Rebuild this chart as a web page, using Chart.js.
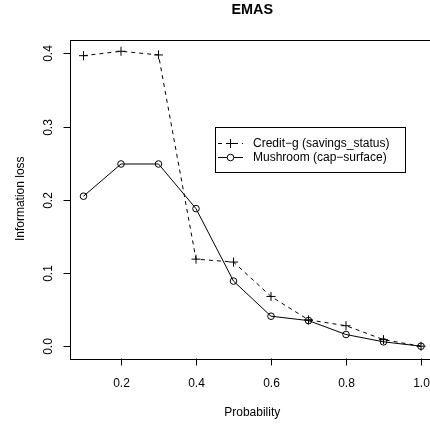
<!DOCTYPE html>
<html>
<head>
<meta charset="utf-8">
<meta name="viewport" content="width=430, initial-scale=1">
<script src="https://cdn.jsdelivr.net/npm/chart.js@4/dist/chart.umd.min.js"></script>
<style>
html,body{margin:0;padding:0;background:#fff;overflow:hidden;width:430px;height:428px;}
#wrap{width:430px;height:428px;overflow:hidden;position:relative;}
canvas{display:block;position:absolute;left:0;top:0;}
</style>
</head>
<body>
<div id="wrap"><canvas id="c" width="440" height="428" style="width:440px;height:428px"></canvas></div>
<script>
const probabilities = [0.1, 0.2, 0.3, 0.4, 0.5, 0.6, 0.7, 0.8, 0.9, 1.0];
const creditG = [0.397, 0.403, 0.398, 0.119, 0.115, 0.068, 0.036, 0.028, 0.009, 0.0];
const mushroom = [0.205, 0.249, 0.249, 0.188, 0.089, 0.041, 0.035, 0.016, 0.006, 0.0];
const xTicks = [0.2, 0.4, 0.6, 0.8, 1.0];
const yTicks = [0.0, 0.1, 0.2, 0.3, 0.4];
const seriesNames = ["Credit\u2212g (savings_status)", "Mushroom (cap\u2212surface)"];
const titleText = "EMAS";
const xTitle = "Probability";
const yTitle = "Information loss";

const FONT = '"Liberation Sans", Arial, Helvetica, sans-serif';

function toPts(ys){ return probabilities.map((p,i)=>({x:p, y:ys[i]})); }

const rAxes = {
  id: 'rAxes',
  afterDraw(chart){
    const ctx = chart.ctx, a = chart.chartArea;
    const xs = chart.scales.x, ys = chart.scales.y;
    ctx.save();
    ctx.strokeStyle = '#000'; ctx.fillStyle = '#000'; ctx.lineWidth = 1; ctx.setLineDash([]);
    ctx.strokeRect(Math.round(a.left)+0.5, Math.round(a.top)+0.5, Math.round(a.right-a.left), Math.round(a.bottom-a.top));
    ctx.font = '12px ' + FONT;
    ctx.textAlign = 'center'; ctx.textBaseline = 'alphabetic';
    const bottom = Math.round(a.bottom)+0.5;
    xTicks.forEach(v=>{
      const px = Math.round(xs.getPixelForValue(v))+0.5;
      ctx.beginPath(); ctx.moveTo(px,bottom); ctx.lineTo(px,bottom+7); ctx.stroke();
      ctx.fillText(v.toFixed(1), px, 386.5);
    });
    const left = Math.round(a.left)+0.5;
    yTicks.forEach(v=>{
      const py = Math.round(ys.getPixelForValue(v))+0.5;
      ctx.beginPath(); ctx.moveTo(left-7,py); ctx.lineTo(left,py); ctx.stroke();
      ctx.save(); ctx.translate(52, py); ctx.rotate(-Math.PI/2);
      ctx.textAlign='center'; ctx.textBaseline='alphabetic';
      ctx.fillText(v.toFixed(1), 0, 0); ctx.restore();
    });
    const cx = (a.left + a.right)/2;
    ctx.fillText(xTitle, cx, 416);
    ctx.save(); ctx.translate(24, (a.top+a.bottom)/2); ctx.rotate(-Math.PI/2);
    ctx.textAlign='center'; ctx.fillText(yTitle, 0, 0); ctx.restore();
    ctx.font = 'bold 14.4px ' + FONT;
    ctx.textAlign='center';
    ctx.fillText(titleText, cx, 14);
    ctx.font = '12px ' + FONT;
    ctx.strokeRect(215.5, 127.5, 190, 45);
    const rows = [143.5, 157.5];
    ctx.setLineDash([4,4]);
    ctx.beginPath(); ctx.moveTo(218, rows[0]); ctx.lineTo(243, rows[0]); ctx.stroke();
    ctx.setLineDash([]);
    ctx.beginPath(); ctx.moveTo(230.5-4.5, rows[0]); ctx.lineTo(230.5+4.5, rows[0]);
    ctx.moveTo(230.5, rows[0]-4.5); ctx.lineTo(230.5, rows[0]+4.5); ctx.stroke();
    ctx.beginPath(); ctx.moveTo(218, rows[1]); ctx.lineTo(243, rows[1]); ctx.stroke();
    ctx.fillStyle='#fff';
    ctx.beginPath(); ctx.arc(230.5, rows[1], 3.3, 0, Math.PI*2); ctx.fill(); ctx.stroke();
    ctx.fillStyle='#000';
    ctx.textAlign='left'; ctx.textBaseline='middle';
    ctx.fillText(seriesNames[0], 253, rows[0]+0.5);
    ctx.fillText(seriesNames[1], 253, rows[1]+0.5);
    ctx.restore();
  }
};

new Chart(document.getElementById('c'), {
  type: 'line',
  data: {
    datasets: [
      {
        label: seriesNames[0],
        data: toPts(creditG),
        borderColor: '#000',
        backgroundColor: '#000',
        borderWidth: 1,
        borderDash: [4,4],
        pointStyle: 'cross',
        pointRadius: 4.5,
        pointBorderWidth: 1,
        pointBorderColor: '#000',
        tension: 0,
        fill: false
      },
      {
        label: seriesNames[1],
        data: toPts(mushroom),
        borderColor: '#000',
        backgroundColor: 'rgba(0,0,0,0)',
        borderWidth: 1,
        pointStyle: 'circle',
        pointRadius: 3.3,
        pointBorderWidth: 1,
        pointBackgroundColor: 'rgba(0,0,0,0)',
        pointBorderColor: '#000',
        tension: 0,
        fill: false
      }
    ]
  },
  options: {
    responsive: false,
    maintainAspectRatio: false,
    animation: false,
    devicePixelRatio: 1,
    layout: { padding: { left: 70, top: 39.5, right: 4, bottom: 70 } },
    scales: {
      x: { type: 'linear', min: 0.064, max: 1.036, display: false },
      y: { type: 'linear', min: -0.0161, max: 0.4191, display: false }
    },
    plugins: { legend: { display: false }, tooltip: { enabled: false }, title: { display: false } }
  },
  plugins: [rAxes]
});
</script>
</body>
</html>
